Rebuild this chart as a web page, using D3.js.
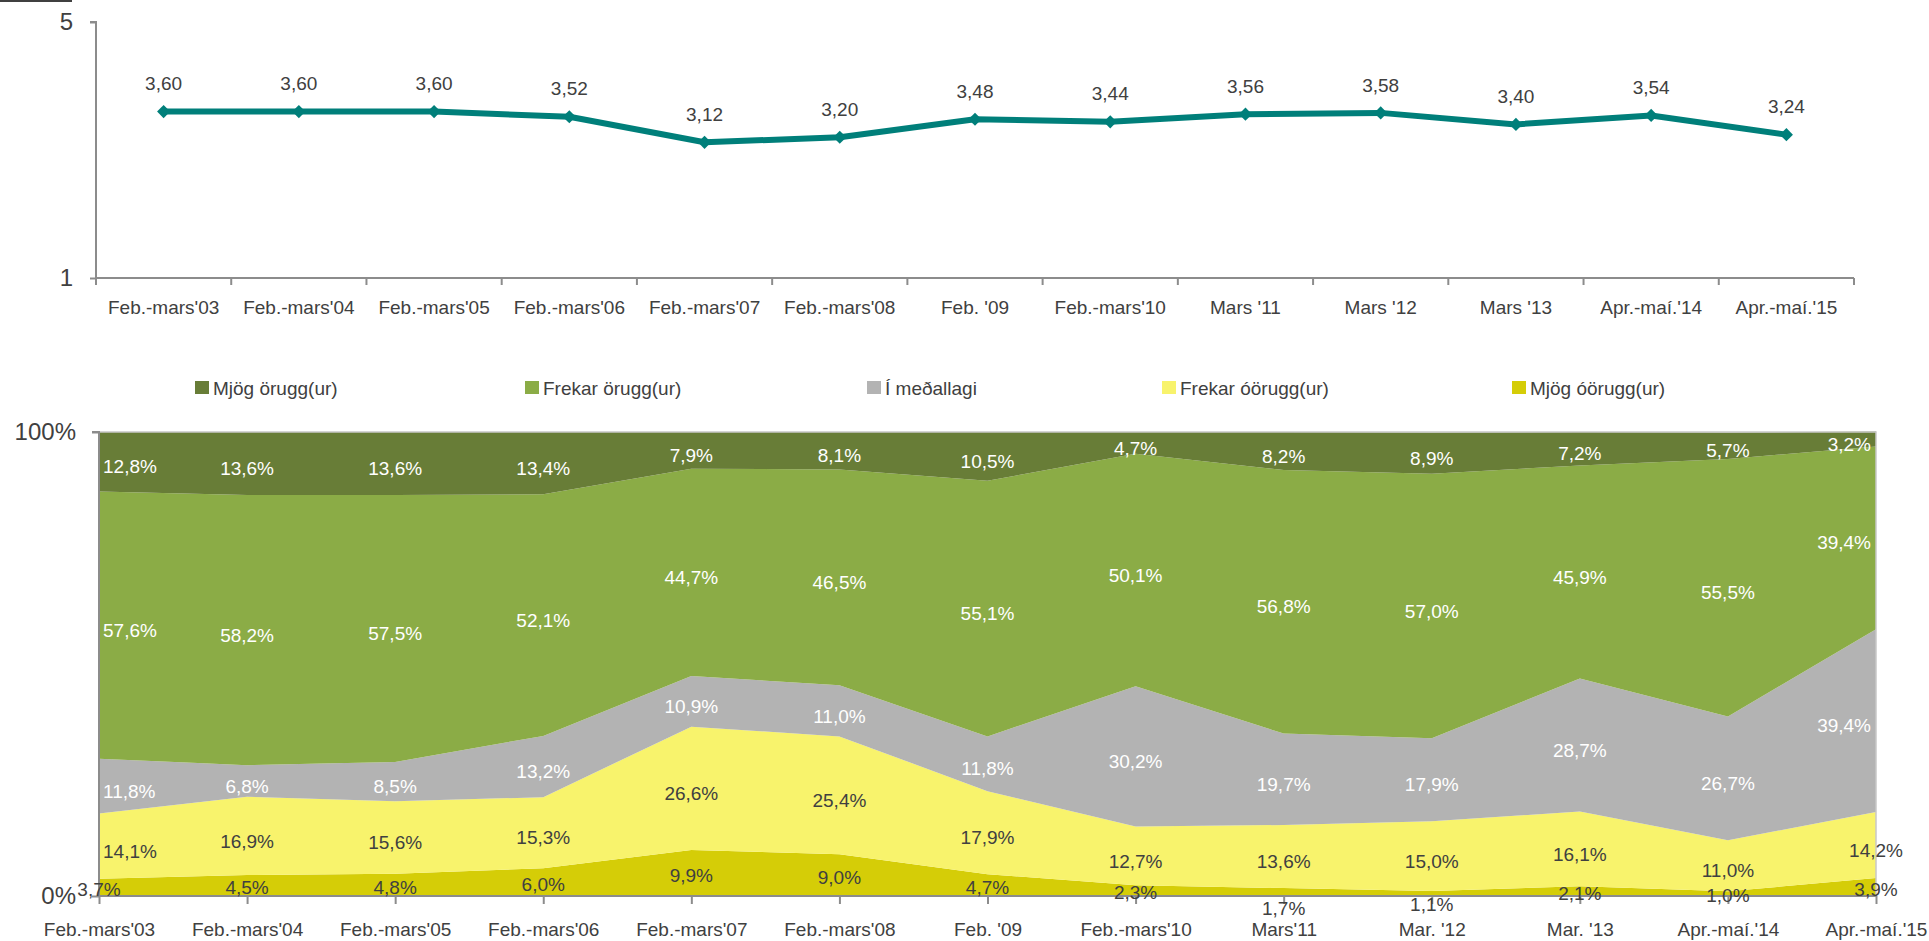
<!DOCTYPE html>
<html>
<head>
<meta charset="utf-8">
<script src="https://cdn.jsdelivr.net/npm/d3@7"></script>
<style>
  html, body { margin: 0; padding: 0; background: #ffffff; }
  svg { display: block; font-family: "Liberation Sans", Arial, sans-serif; }
</style>
</head>
<body>
<svg id="chart" width="1929" height="941"></svg>
<script>
// Mean score per survey (scale 1–5)
const lineCategories = ["Feb.-mars'03", "Feb.-mars'04", "Feb.-mars'05", "Feb.-mars'06", "Feb.-mars'07", "Feb.-mars'08", "Feb. '09", "Feb.-mars'10", "Mars '11", "Mars '12", "Mars '13", "Apr.-maí.'14", "Apr.-maí.'15"];
const meanScore = [3.60, 3.60, 3.60, 3.52, 3.12, 3.20, 3.48, 3.44, 3.56, 3.58, 3.40, 3.54, 3.24];
const scoreTicks = [1, 5];

// Share of answers per survey (%)
const areaCategories = ["Feb.-mars'03", "Feb.-mars'04", "Feb.-mars'05", "Feb.-mars'06", "Feb.-mars'07", "Feb.-mars'08", "Feb. '09", "Feb.-mars'10", "Mars'11", "Mar. '12", "Mar. '13", "Apr.-maí.'14", "Apr.-maí.'15"];
const seriesNames = ["Mjög óörugg(ur)", "Frekar óörugg(ur)", "Í meðallagi", "Frekar örugg(ur)", "Mjög örugg(ur)"];
const mjogOorugg   = [3.7, 4.5, 4.8, 6.0, 9.9, 9.0, 4.7, 2.3, 1.7, 1.1, 2.1, 1.0, 3.9];
const frekarOorugg = [14.1, 16.9, 15.6, 15.3, 26.6, 25.4, 17.9, 12.7, 13.6, 15.0, 16.1, 11.0, 14.2];
const imedallagi   = [11.8, 6.8, 8.5, 13.2, 10.9, 11.0, 11.8, 30.2, 19.7, 17.9, 28.7, 26.7, 39.4];
const frekarOrugg  = [57.6, 58.2, 57.5, 52.1, 44.7, 46.5, 55.1, 50.1, 56.8, 57.0, 45.9, 55.5, 39.4];
const mjogOrugg    = [12.8, 13.6, 13.6, 13.4, 7.9, 8.1, 10.5, 4.7, 8.2, 8.9, 7.2, 5.7, 3.2];
const percentTicks = [0, 100];
const legendOrder = ["Mjög örugg(ur)", "Frekar örugg(ur)", "Í meðallagi", "Frekar óörugg(ur)", "Mjög óörugg(ur)"];

const seriesValues = [mjogOorugg, frekarOorugg, imedallagi, frekarOrugg, mjogOrugg];
const seriesColors = ["#d5cd07", "#f8f36c", "#b3b3b3", "#8bac46", "#687d37"];
const labelColors  = ["#404040", "#404040", "#ffffff", "#ffffff", "#ffffff"];

const isLocale = d3.formatLocale({ decimal: ",", thousands: ".", grouping: [3], currency: ["", " kr."] });
const fmtScore = isLocale.format(".2f");
const fmtPct = v => isLocale.format(".1f")(v) + "%";

const TEXT = "#404040";
const AXIS = "#8c8c8c";
const FONT = "Liberation Sans, Arial, sans-serif";
const svg = d3.select("#chart");

// short rule in the top-left corner
svg.append("line").attr("x1", 0).attr("x2", 72).attr("y1", 1).attr("y2", 1)
  .attr("stroke", "#404040").attr("stroke-width", 2);

/* ---------------- Line chart: mean score ---------------- */
const lineBox = { left: 96, right: 1854, top: 22, bottom: 278 };
const xBand = d3.scaleBand().domain(lineCategories).range([lineBox.left, lineBox.right]).paddingInner(0).paddingOuter(0);
const yScore = d3.scaleLinear().domain([1, 5]).range([lineBox.bottom, lineBox.top]);
const cx = c => xBand(c) + xBand.bandwidth() / 2;

const gTop = svg.append("g");

// y axis
const yAxisTop = gTop.append("g").attr("transform", `translate(${lineBox.left},0)`)
  .call(d3.axisLeft(yScore).tickValues(scoreTicks).tickFormat(d3.format("d")).tickSize(6).tickPadding(17));
yAxisTop.select(".domain").attr("stroke", AXIS).attr("stroke-width", 2).attr("d", `M-6,${lineBox.top}H0V${lineBox.bottom}`);
yAxisTop.selectAll(".tick line").attr("stroke", AXIS).attr("stroke-width", 2);
yAxisTop.selectAll(".tick text").attr("fill", TEXT).style("font-size", "24px").style("font-family", FONT);

// x axis: labels centred in bands, ticks on band boundaries
const xAxisTop = gTop.append("g").attr("transform", `translate(0,${lineBox.bottom})`)
  .call(d3.axisBottom(xBand).tickSize(0).tickPadding(23));
xAxisTop.select(".domain").attr("stroke", AXIS).attr("stroke-width", 2).attr("d", `M${lineBox.left},0H${lineBox.right}`);
xAxisTop.selectAll(".tick text").attr("fill", TEXT).style("font-size", "19px").style("font-family", FONT);
const bounds = lineCategories.map(c => xBand(c)).concat([lineBox.right]);
gTop.append("g").selectAll("line").data(bounds).join("line")
  .attr("x1", d => d).attr("x2", d => d)
  .attr("y1", lineBox.bottom).attr("y2", lineBox.bottom + 7)
  .attr("stroke", AXIS).attr("stroke-width", 2);

// line + markers
const scorePts = lineCategories.map((c, i) => ({ c, v: meanScore[i] }));
gTop.append("path").datum(scorePts)
  .attr("fill", "none").attr("stroke", "#007f7a").attr("stroke-width", 6).attr("stroke-linejoin", "round")
  .attr("d", d3.line().x(d => cx(d.c)).y(d => yScore(d.v)));
gTop.append("g").selectAll("path").data(scorePts).join("path")
  .attr("transform", d => `translate(${cx(d.c)},${yScore(d.v)})`)
  .attr("d", d3.symbol(d3.symbolDiamond2, 110))
  .attr("fill", "#007f7a");
gTop.append("g").selectAll("text").data(scorePts).join("text")
  .attr("x", d => cx(d.c)).attr("y", d => yScore(d.v) - 28)
  .attr("dy", "0.35em").attr("text-anchor", "middle")
  .attr("fill", TEXT).style("font-size", "19px")
  .text(d => fmtScore(d.v));

/* ---------------- Stacked area chart: distribution ---------------- */
const areaBox = { left: 99, right: 1876, top: 432, bottom: 896 };
const xPoint = d3.scalePoint().domain(areaCategories).range([areaBox.left, areaBox.right]).padding(0);
const yPct = d3.scaleLinear().domain([0, 100]).range([areaBox.bottom, areaBox.top]);

const rows = areaCategories.map((c, j) => {
  const r = { cat: c };
  seriesNames.forEach((s, i) => { r[s] = seriesValues[i][j]; });
  return r;
});
const stacked = d3.stack().keys(seriesNames)(rows);

const gBot = svg.append("g");
const area = d3.area().x(d => xPoint(d.data.cat)).y0(d => yPct(d[0])).y1(d => yPct(d[1]));
gBot.append("g").selectAll("path").data(stacked).join("path")
  .attr("fill", (d, i) => seriesColors[i])
  .attr("d", area);

// frame line along 100% and right edge
gBot.append("path").attr("d", `M${areaBox.left},${areaBox.top}H${areaBox.right}V${areaBox.bottom}`)
  .attr("fill", "none").attr("stroke", "#c8c8c8").attr("stroke-width", 1.5);

// y axis
const yAxisBot = gBot.append("g").attr("transform", `translate(${areaBox.left},0)`)
  .call(d3.axisLeft(yPct).tickValues(percentTicks).tickFormat(d => d + "%").tickSize(7).tickPadding(16));
yAxisBot.select(".domain").attr("stroke", AXIS).attr("stroke-width", 2).attr("d", `M-7,${areaBox.top}H0V${areaBox.bottom}`);
yAxisBot.selectAll(".tick line").attr("stroke", AXIS).attr("stroke-width", 2);
yAxisBot.selectAll(".tick text").attr("fill", TEXT).style("font-size", "24px").style("font-family", FONT);

// x axis
const xAxisBot = gBot.append("g").attr("transform", `translate(0,${areaBox.bottom})`)
  .call(d3.axisBottom(xPoint).tickSize(8).tickPadding(19));
xAxisBot.select(".domain").attr("stroke", AXIS).attr("stroke-width", 2).attr("d", `M${areaBox.left},0H${areaBox.right}`);
xAxisBot.selectAll(".tick line").attr("stroke", AXIS).attr("stroke-width", 2);
xAxisBot.selectAll(".tick text").attr("fill", TEXT).style("font-size", "19px").style("font-family", FONT);

// data labels, centred in each band; edge labels of the upper bands kept inside the plot
const labelNudge = { "0-8": 14, "0-9": 9 };
const labels = [];
stacked.forEach((s, i) => {
  s.forEach((d, j) => {
    const mid = (yPct(d[0]) + yPct(d[1])) / 2 + (i === 0 ? 2 : 5) + (labelNudge[i + "-" + j] || 0);
    labels.push({ i, j, x: xPoint(d.data.cat), y: mid, v: seriesValues[i][j] });
  });
});
const lt = gBot.append("g").selectAll("text").data(labels).join("text")
  .attr("y", d => d.y).attr("dy", "0.35em")
  .attr("fill", d => labelColors[d.i]).style("font-size", "19px")
  .text(d => fmtPct(d.v));
lt.each(function (d) {
  const w = this.getComputedTextLength();
  let x = d.x - w / 2;
  if (d.i >= 1 && x < areaBox.left + 4) x = areaBox.left + 4;
  if (d.i >= 2 && x + w > areaBox.right - 5) x = areaBox.right - 5 - w;
  d3.select(this).attr("x", x);
});

// legend row
const legendY = 388;
const legendX = [195, 525, 867, 1162, 1512];
const lg = svg.append("g");
const items = lg.selectAll("g").data(legendOrder).join("g")
  .attr("transform", (d, k) => `translate(${legendX[k]},0)`);
items.append("rect").attr("width", 14).attr("height", 13).attr("y", legendY - 7)
  .attr("fill", d => seriesColors[seriesNames.indexOf(d)]);
items.append("text").attr("x", 18).attr("y", legendY).attr("dy", "0.35em")
  .attr("fill", TEXT).style("font-size", "19px").text(d => d);
</script>
</body>
</html>
